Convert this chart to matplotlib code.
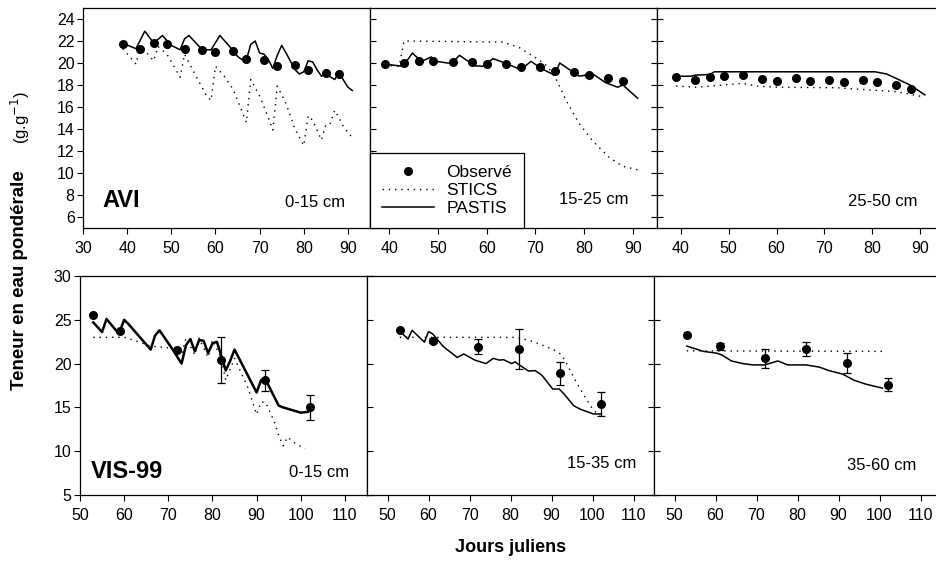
import numpy as np
import matplotlib
matplotlib.use("Agg")
import matplotlib.pyplot as plt
from matplotlib.lines import Line2D

plt.rcParams['font.family'] = ['Liberation Sans', 'DejaVu Sans']

# ---- AVI (top row) ----
avi_obs_x = [39, 43, 46, 49, 53, 57, 60, 64, 67, 71, 74, 78, 81, 85, 88]
avi_obs_0_15 = [21.75, 21.3, 21.8, 21.7, 21.3, 21.2, 21.0, 21.1, 20.4, 20.3, 19.7, 19.8, 19.35, 19.1, 19.0]
avi_obs_15_25 = [19.9, 20.0, 20.2, 20.2, 20.05, 20.05, 19.9, 19.9, 19.6, 19.6, 19.3, 19.2, 18.9, 18.6, 18.4]
avi_obs_25_50 = [18.7, 18.5, 18.7, 18.8, 18.95, 18.55, 18.4, 18.6, 18.4, 18.45, 18.3, 18.45, 18.25, 18.0, 17.6]

avi_pastis_0_15_x = [39, 42, 44, 46, 48, 50, 52, 53, 54, 57, 59, 61, 63, 65, 66, 67, 68, 69, 70, 71, 72, 73,
                     74, 75, 76, 78, 79, 80, 81, 82, 83, 84, 85, 87, 88, 90, 91]
avi_pastis_0_15 = [21.8, 21.3, 22.9, 21.8, 22.5, 21.6, 21.2, 22.2, 22.5, 21.2, 21.2, 22.5, 21.6, 20.6, 20.3, 20.3,
                   21.7, 22.0, 20.9, 20.8, 20.3, 19.5, 20.7, 21.6, 20.9, 19.4, 19.0, 19.2, 20.2, 20.1, 19.4, 18.8,
                   19.0, 18.5, 19.1, 17.8, 17.5]
avi_stics_0_15_x = [39, 42, 43, 46, 47, 49, 52, 53, 56, 58, 59, 60, 62, 64, 66, 67, 68, 70, 72, 73, 74, 76, 78,
                    80, 81, 82, 84, 85, 86, 87, 88, 89, 91]
avi_stics_0_15 = [21.3, 19.9, 21.6, 20.2, 21.5, 20.8, 18.7, 20.8, 18.5, 17.0, 16.6, 19.7, 18.8, 17.6, 15.6, 14.6,
                  18.5, 17.0, 15.0, 13.9, 17.9, 16.3, 14.0, 12.5, 15.2, 14.8, 13.0, 14.4, 14.5, 15.7, 15.0, 14.2, 13.2]

avi_pastis_15_25_x = [39, 42.8, 44.7, 46.6, 48.6, 49.6, 52.7, 54.4, 57.5, 59.2, 61.3, 64.3, 67, 69.1, 71.2, 73.9,
                      75, 77, 79, 81.8, 84.5, 86.9, 88, 91]
avi_pastis_15_25 = [19.9, 19.7, 20.9, 20.15, 20.55, 20.15, 19.95, 20.7, 19.75, 19.7, 20.4, 19.9, 19.4, 20.15, 19.5,
                    18.9, 20.0, 19.4, 18.8, 19.0, 18.2, 17.8, 18.0, 16.8]
avi_stics_15_25_x = [39, 42, 43, 63.3, 66.7, 70, 72.5, 74.3, 76.3, 79, 81.8, 85.2, 88, 91]
avi_stics_15_25 = [19.8, 19.7, 22.0, 21.9, 21.4, 20.5, 19.7, 18.5, 16.6, 14.5, 12.9, 11.4, 10.6, 10.3]

avi_pastis_25_50_x = [39, 42.2, 43, 46, 47, 80.6, 83, 85, 87.9, 91]
avi_pastis_25_50 = [18.8, 18.8, 18.9, 18.95, 19.2, 19.2, 19.0, 18.6, 18.0, 17.1]
avi_stics_25_50_x = [39, 43.3, 48.9, 53, 55.8, 60, 72.6, 79.5, 85, 91]
avi_stics_25_50 = [17.9, 17.8, 18.0, 18.15, 17.9, 17.8, 17.75, 17.55, 17.4, 16.9]

# ---- VIS-99 (bottom row) ----
vis_obs_x_0_15 = [53, 59, 72, 82, 92, 102]
vis_obs_0_15 = [25.6, 23.7, 21.6, 20.4, 18.1, 15.0]
vis_err_0_15 = [0, 0, 0, 2.6, 1.2, 1.4]
vis_obs_x = [53, 61, 72, 82, 92, 102]
vis_obs_15_35 = [23.85, 22.6, 21.95, 21.65, 18.9, 15.4]
vis_err_15_35 = [0, 0.3, 0.85, 2.3, 1.3, 1.35]
vis_obs_35_60 = [23.3, 22.0, 20.6, 21.7, 20.1, 17.6]
vis_err_35_60 = [0, 0.4, 1.05, 0.8, 1.15, 0.7]

vis_pastis_0_15_x = [53, 55, 56, 58.8, 60, 61, 66, 67, 68, 71, 73, 74, 75, 76, 77, 78, 79, 80, 81, 82.3, 83,
                     84, 85, 90, 91, 92, 95, 96, 98, 100, 101.7, 102]
vis_pastis_0_15 = [24.7, 23.6, 25.1, 23.4, 25.0, 24.5, 21.6, 23.2, 23.8, 21.6, 20.0, 22.1, 22.8, 21.4, 22.7, 22.6,
                   21.2, 22.3, 22.5, 20.4, 19.2, 20.3, 21.6, 16.7, 18.1, 18.2, 15.2, 15.0, 14.7, 14.4, 14.5, 15.0]
vis_stics_0_15_x = [53, 60, 62, 66, 70, 73, 74, 76, 77, 79, 80, 82, 83, 85, 88, 90, 91, 92, 94, 95, 96, 97, 99, 101]
vis_stics_0_15 = [23.0, 23.0, 22.7, 22.0, 21.8, 21.0, 22.9, 21.0, 22.9, 20.7, 22.7, 20.6, 18.1, 20.6, 17.3, 14.2,
                  15.6, 15.6, 13.4, 11.8, 10.6, 11.6, 10.8, 10.3]

vis_pastis_15_35_x = [53, 55, 56, 59, 60, 61, 63.6, 67, 68.6, 71.3, 74, 75.8, 77.3, 78.3, 80.3, 81.1, 82.3, 84.4,
                      86, 87.6, 90.3, 91.9, 93.3, 95.4, 97, 100.2, 102]
vis_pastis_15_35 = [23.7, 22.8, 23.8, 22.45, 23.65, 23.4, 21.95, 20.7, 21.1, 20.4, 20.0, 20.6, 20.4, 20.45, 20.0,
                    20.2, 19.8, 19.15, 19.2, 18.7, 17.1, 17.1, 16.4, 15.2, 14.8, 14.25, 14.25]
vis_stics_15_35_x = [53, 81.5, 85.6, 90.5, 92.5, 94.1, 96.2, 98.6, 100.2, 102]
vis_stics_15_35 = [23.0, 23.0, 22.5, 21.6, 21.0, 19.65, 17.75, 15.85, 14.7, 13.9]

vis_pastis_35_60_x = [53, 57, 60.2, 61.5, 63.9, 66.7, 69.1, 72, 75.2, 77.6, 82.1, 85.3, 87.7, 91, 93.8, 96.7, 100.7]
vis_pastis_35_60 = [22.0, 21.4, 21.2, 21.0, 20.3, 20.0, 19.85, 19.85, 20.3, 19.85, 19.85, 19.6, 19.2, 18.8, 18.1,
                    17.65, 17.2]
vis_stics_35_60_x = [53, 101.5]
vis_stics_35_60 = [21.45, 21.4]

W, H = 936, 561
fig = plt.figure(figsize=(W / 100, H / 100), dpi=100)

dotted = (0, (1, 3.5))
TICK_FS = 11.5
NOTE_FS = 12


def make_axes(left_px, top_px, bottom_px, width_px=287):
    return fig.add_axes([left_px / W, 1 - bottom_px / H, width_px / W, (bottom_px - top_px) / H])


def style(ax, col):
    ax.tick_params(axis='x', direction='out', length=4, labelsize=TICK_FS, width=0.8, pad=5)
    if col == 0:
        ax.tick_params(axis='y', left=True, right=True, labelleft=True,
                       labelsize=TICK_FS, length=4, width=0.8, direction='out', pad=2)
    else:
        # last column runs off the right edge of the picture, no right ticks there
        ax.tick_params(axis='y', left=True, right=(col == 1), labelleft=False,
                       direction='in', length=4, width=0.8)
    for s in ax.spines.values():
        s.set_linewidth(0.9)


def draw(ax, ox, oy, px, py, sx, sy, err=None, lw=1.1):
    ax.plot(sx, sy, color='black', linestyle=dotted, linewidth=1.0)
    ax.plot(px, py, color='black', linewidth=lw)
    if err is None:
        ax.plot(ox, oy, 'o', color='black', markersize=5.5)
    else:
        e = np.array(err, dtype=float)
        ax.errorbar(ox, oy, yerr=np.where(e > 0, e, np.nan), fmt='o', color='black', markersize=5.5,
                    ecolor='black', elinewidth=0.9, capsize=3, capthick=0.9)


# top row
ax1 = make_axes(83, 8, 228)
ax2 = make_axes(370, 8, 228)
ax3 = make_axes(657, 8, 228)
draw(ax1, avi_obs_x, avi_obs_0_15, avi_pastis_0_15_x, avi_pastis_0_15, avi_stics_0_15_x, avi_stics_0_15)
draw(ax2, avi_obs_x, avi_obs_15_25, avi_pastis_15_25_x, avi_pastis_15_25, avi_stics_15_25_x, avi_stics_15_25)
draw(ax3, avi_obs_x, avi_obs_25_50, avi_pastis_25_50_x, avi_pastis_25_50, avi_stics_25_50_x, avi_stics_25_50)
ax1.set_xlim(30, 95)
ax2.set_xlim(36, 95)
ax3.set_xlim(35, 95)
ax1.set_xticks(np.arange(30, 91, 10))
for ax in (ax2, ax3):
    ax.set_xticks(np.arange(40, 91, 10))
for i, ax in enumerate((ax1, ax2, ax3)):
    ax.set_ylim(5, 25)
    ax.set_yticks(np.arange(6, 25, 2))
    style(ax, i)

ax1.text(0.066, 0.095, 'AVI', transform=ax1.transAxes, fontsize=17, fontweight='bold')
ax1.text(0.913, 0.095, '0-15 cm', transform=ax1.transAxes, fontsize=NOTE_FS, ha='right')
ax2.text(0.90, 0.11, '15-25 cm', transform=ax2.transAxes, fontsize=NOTE_FS, ha='right')
ax3.text(0.909, 0.10, '25-50 cm', transform=ax3.transAxes, fontsize=NOTE_FS, ha='right')

handles = [Line2D([], [], marker='o', color='black', linestyle='none', markersize=5.5),
           Line2D([], [], color='black', linestyle=dotted, linewidth=1.0),
           Line2D([], [], color='black', linewidth=1.1)]
leg = ax2.legend(handles, ['Observé', 'STICS', 'PASTIS'], loc='lower left', bbox_to_anchor=(0, 0),
                 borderaxespad=0, fancybox=False, edgecolor='black', framealpha=1, fontsize=12.5,
                 handlelength=3.0, labelspacing=0.15, borderpad=0.7, handletextpad=0.7)
leg.get_frame().set_linewidth(0.9)

# bottom row
bx1 = make_axes(80, 276, 495)
bx2 = make_axes(367, 276, 495)
bx3 = make_axes(654, 276, 495)
draw(bx1, vis_obs_x_0_15, vis_obs_0_15, vis_pastis_0_15_x, vis_pastis_0_15, vis_stics_0_15_x, vis_stics_0_15,
     err=vis_err_0_15, lw=1.8)
draw(bx2, vis_obs_x, vis_obs_15_35, vis_pastis_15_35_x, vis_pastis_15_35, vis_stics_15_35_x, vis_stics_15_35,
     err=vis_err_15_35)
draw(bx3, vis_obs_x, vis_obs_35_60, vis_pastis_35_60_x, vis_pastis_35_60, vis_stics_35_60_x, vis_stics_35_60,
     err=vis_err_35_60)
bx1.set_xlim(50, 115)
bx2.set_xlim(45, 115)
bx3.set_xlim(45, 115)
for i, ax in enumerate((bx1, bx2, bx3)):
    ax.set_xticks(np.arange(50, 111, 10))
    ax.set_ylim(5, 30)
    ax.set_yticks(np.arange(5, 31, 5))
    style(ax, i)

bx1.text(0.038, 0.078, 'VIS-99', transform=bx1.transAxes, fontsize=17, fontweight='bold')
bx1.text(0.937, 0.082, '0-15 cm', transform=bx1.transAxes, fontsize=NOTE_FS, ha='right')
bx2.text(0.94, 0.123, '15-35 cm', transform=bx2.transAxes, fontsize=NOTE_FS, ha='right')
bx3.text(0.913, 0.114, '35-60 cm', transform=bx3.transAxes, fontsize=NOTE_FS, ha='right')

fig.text(20 / W, 1 - 280 / H, 'Teneur en eau pondérale', rotation=90, ha='center', va='center',
         fontsize=13.5, fontweight='bold')
fig.text(20 / W, 1 - 117 / H, '(g.g$^{-1}$)', rotation=90, ha='center', va='center', fontsize=12)
fig.text(511 / W, 1 - 547 / H, 'Jours juliens', ha='center', va='center', fontsize=13, fontweight='bold')

fig.savefig('out.png', dpi=100)
